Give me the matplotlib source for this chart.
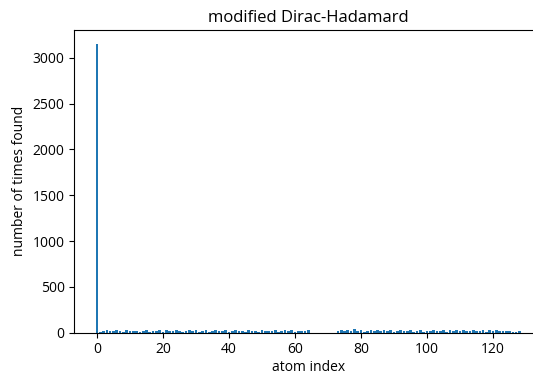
import matplotlib
matplotlib.use("Agg")
from matplotlib import pyplot as plt

# counts per atom index (index 0 dominates, 65-72 never found)
first_count = [3146]
counts_a = [12, 18, 25, 14, 22, 30, 16, 11, 27, 19, 23, 15, 9, 20, 28, 13,
            24, 17, 31, 12, 26, 21, 14, 33, 18, 10, 22, 29, 16, 25, 13, 19,
            27, 11, 23, 30, 15, 20, 34, 12, 18, 26, 14, 21, 9, 28, 17, 24,
            13, 31, 19, 22, 15, 27, 10, 20, 25, 16, 29, 12, 23, 18, 14, 26]
gap = [0] * 8
counts_b = [24, 28, 19, 30, 22, 35, 15, 26, 12, 21, 29, 17, 33, 14, 25, 20,
            31, 11, 23, 27, 16, 22, 30, 13, 19, 26, 10, 24, 18, 32, 15, 21,
            28, 12, 25, 17, 30, 20, 34, 14, 23, 29, 16, 22, 27, 11, 26, 19,
            31, 15, 24, 18, 21, 13, 9, 17]
counts = first_count + counts_a + gap + counts_b
atoms = list(range(len(counts)))

plt.rcParams['font.family'] = ['Open Sans', 'DejaVu Sans']

W, H, DPI = 533, 376, 100
fig = plt.figure(figsize=(W / DPI, H / DPI), dpi=DPI)
# the original axes runs past the right edge of the saved image
ax = fig.add_axes([74.4 / W, 43.3 / H, 467.6 / W, 302.7 / H])

ax.bar(atoms, counts, color='#1f77b4')
ax.set_title('modified Dirac-Hadamard', fontsize=12)
ax.set_xlabel('atom index', fontsize=10, labelpad=2)
ax.set_ylabel('number of times found', fontsize=10)
ax.tick_params(labelsize=10)
ax.spines['right'].set_visible(False)

fig.savefig('out.png', dpi=DPI)
